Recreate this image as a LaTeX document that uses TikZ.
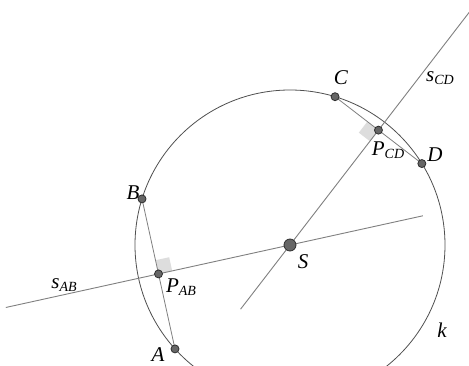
\documentclass[tikz,border=0pt]{standalone}
\usepackage{fontspec}
\setmainfont{Liberation Serif}
\usetikzlibrary{calc}
\definecolor{circ}{HTML}{505050}
\definecolor{lin}{HTML}{808080}
\definecolor{ptfill}{HTML}{666666}
\definecolor{ptdraw}{HTML}{2E2E2E}
\definecolor{rightang}{HTML}{DDDDDD}
\newcommand{\sublbl}[2]{\textit{#1}\raisebox{-0.35ex}{\fontsize{14}{14}\selectfont\textit{#2}}}
\begin{document}
\begin{tikzpicture}[x=1pt,y=1pt,
  pt/.style={circle,fill=ptfill,draw=ptdraw,line width=0.8pt,inner sep=0pt,minimum size=8pt},
  bigpt/.style={pt,minimum size=12pt},
  lbl/.style={inner sep=0pt,font=\fontsize{21}{24}\selectfont\itshape},
  circline/.style={draw=circ,line width=0.8pt},
  sline/.style={draw=lin,line width=0.9pt},
  chord/.style={draw=lin,line width=0.8pt}]
\useasboundingbox (0,0) rectangle (469,365);
\clip (0,0) rectangle (469,365);
\fill[white] (0,0) rectangle (469,365);
\coordinate (S0) at (290,120);
\coordinate (Cc) at ([shift={(73.1:155)}]S0);
\coordinate (Dc) at ([shift={(31.7:155)}]S0);
\coordinate (Bc) at ([shift={(162.7:155)}]S0);
\coordinate (Ac) at ([shift={(222.1:155)}]S0);
\coordinate (PCDc) at ($(Cc)!0.5!(Dc)$);
\coordinate (PABc) at ($(Ac)!0.5!(Bc)$);
% right angle marks
\coordinate (q1) at ($(PCDc)!14pt!(Cc)$);
\coordinate (q2) at ($(PCDc)!14pt!(S0)$);
\fill[rightang] (PCDc) -- (q1) -- ($(q1)+(q2)-(PCDc)$) -- (q2) -- cycle;
\coordinate (r1) at ($(PABc)!14pt!(Bc)$);
\coordinate (r2) at ($(PABc)!14pt!(S0)$);
\fill[rightang] (PABc) -- (r1) -- ($(r1)+(r2)-(PABc)$) -- (r2) -- cycle;
% circle
\draw[circline] (S0) circle (155);
% bisector lines
\coordinate (cd1) at ([shift={(232.4:81)}]S0);
\coordinate (cd2) at ([shift={(52.4:330)}]S0);
\coordinate (ab1) at ([shift={(192.4:291)}]S0);
\coordinate (ab2) at ([shift={(12.4:136)}]S0);
\draw[sline] (cd1) -- (cd2);
\draw[sline] (ab1) -- (ab2);
% chords
\draw[chord] (Cc) -- (Dc);
\draw[chord] (Ac) -- (Bc);
% points
\node[pt] (C) at (Cc) {};
\node[pt] (D) at (Dc) {};
\node[pt] (B) at (Bc) {};
\node[pt] (A) at (Ac) {};
\node[pt] (PCD) at (PCDc) {};
\node[pt] (PAB) at (PABc) {};
\node[bigpt] (S) at (S0) {};
% labels
\node[lbl] (lC) at (341,287) {C};
\node[lbl] (lD) at (435,210) {D};
\node[lbl] (lB) at (133,172) {B};
\node[lbl] (lA) at (158,10) {A};
\node[lbl] (lS) at (303,103) {S};
\node[lbl] (lk) at (442,35) {k};
\node[lbl] (lPCD) at (388,215) {\sublbl{P}{CD}};
\node[lbl] (lPAB) at (181,78) {\sublbl{P}{AB}};
\node[lbl] (lsCD) at (440,287) {\sublbl{s}{CD}};
\node[lbl] (lsAB) at (64,80) {\sublbl{s}{AB}};
\end{tikzpicture}
\end{document}
